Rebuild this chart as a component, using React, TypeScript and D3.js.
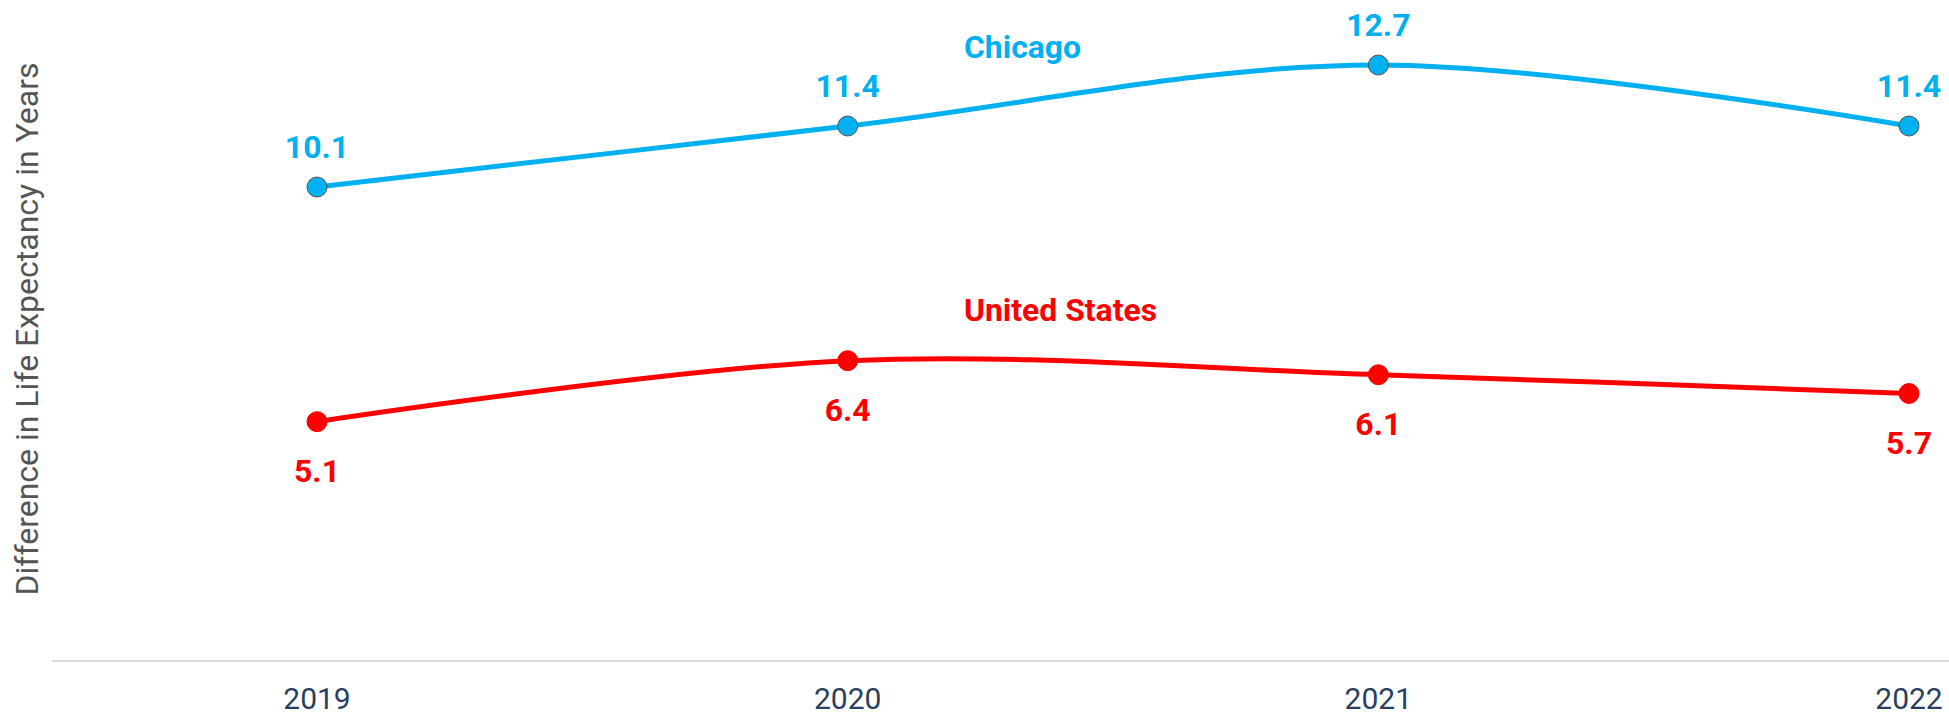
import React, { useEffect, useRef } from 'react';
import * as d3 from 'd3';

const years = ['2019', '2020', '2021', '2022'];
const chicago = [10.1, 11.4, 12.7, 11.4];
const unitedStates = [5.1, 6.4, 6.1, 5.7];
const seriesNames = ['Chicago', 'United States'];
const yTitle = 'Difference in Life Expectancy in Years';

const App = () => {
  const svgRef = useRef<SVGSVGElement>(null);

  useEffect(() => {
    const width = 1949;
    const height = 718;
    const font = 'Roboto, "Noto Sans", sans-serif';

    const svg = d3.select(svgRef.current);
    svg.selectAll('*').remove();
    svg.attr('width', width).attr('height', height);

    const x = d3.scalePoint<string>().domain(years).range([317, 1909]);
    const y = d3.scaleLinear().domain([0, 14]).range([661, 4]);

    // baseline
    svg.append('line')
      .attr('x1', 52).attr('x2', width)
      .attr('y1', y(0)).attr('y2', y(0))
      .attr('stroke', '#d9d9d9')
      .attr('stroke-width', 2);

    // x tick labels
    svg.append('g').selectAll('text')
      .data(years)
      .enter()
      .append('text')
      .attr('x', d => x(d)!)
      .attr('y', 709)
      .attr('text-anchor', 'middle')
      .style('font-family', font)
      .style('font-size', '30px')
      .style('fill', '#2a3f5f')
      .text(d => d);

    // y title
    svg.append('text')
      .attr('transform', 'rotate(-90)')
      .attr('x', -329)
      .attr('y', 38)
      .attr('text-anchor', 'middle')
      .style('font-family', font)
      .style('font-size', '32px')
      .style('fill', '#555555')
      .text(yTitle);

    const series = [
      { name: seriesNames[0], values: chicago, color: '#00b0f0', stroke: '#555555', above: true, labelY: 58, labelW: 117 },
      { name: seriesNames[1], values: unitedStates, color: '#ff0000', stroke: '#ff0000', above: false, labelY: 321, labelW: 193 },
    ];

    const line = d3.line<number>()
      .x((_, i) => x(years[i])!)
      .y(d => y(d))
      .curve(d3.curveCatmullRom.alpha(0.5));

    series.forEach(s => {
      const g = svg.append('g');

      g.append('path')
        .datum(s.values)
        .attr('d', line)
        .attr('fill', 'none')
        .attr('stroke', s.color)
        .attr('stroke-width', 5);

      g.selectAll('circle')
        .data(s.values)
        .enter()
        .append('circle')
        .attr('cx', (_, i) => x(years[i])!)
        .attr('cy', d => y(d))
        .attr('r', 10)
        .attr('fill', s.color)
        .attr('stroke', s.stroke)
        .attr('stroke-width', 1);

      g.selectAll('text.val')
        .data(s.values)
        .enter()
        .append('text')
        .attr('class', 'val')
        .attr('x', (_, i) => x(years[i])!)
        .attr('y', d => s.above ? y(d) - 29 : y(d) + 60)
        .attr('text-anchor', 'middle')
        .style('font-family', font)
        .style('font-size', '32px')
        .style('font-weight', 'bold')
        .style('fill', s.color)
        .text(d => d.toFixed(1));

      g.append('text')
        .attr('x', 964)
        .attr('y', s.labelY)
        .attr('textLength', s.labelW)
        .attr('lengthAdjust', 'spacingAndGlyphs')
        .style('font-family', font)
        .style('font-size', '32px')
        .style('font-weight', 'bold')
        .style('fill', s.color)
        .text(s.name);
    });
  }, []);

  return <svg ref={svgRef} style={{ position: 'absolute', left: 0, top: 0 }}></svg>;
};

export default App;
